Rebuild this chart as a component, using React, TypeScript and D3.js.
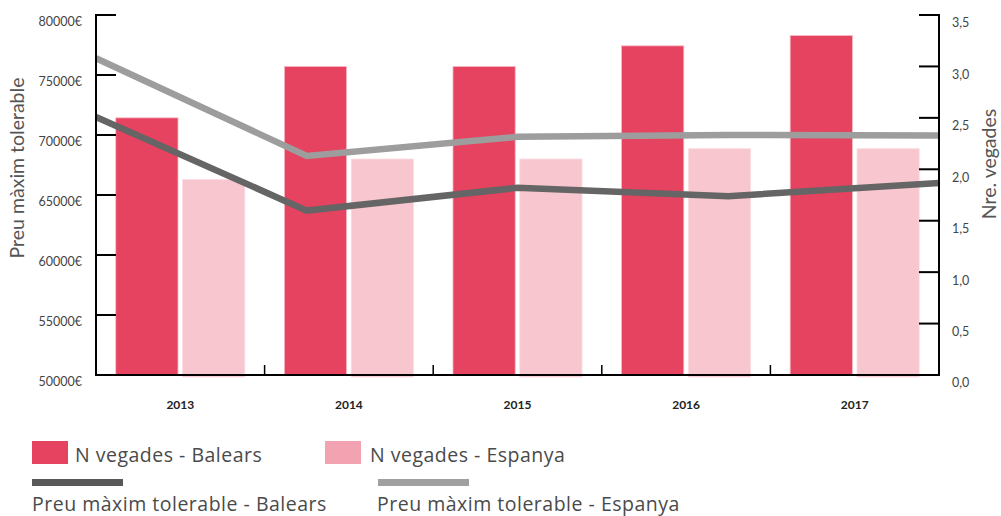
import React from "react";
import * as d3 from "d3";

const years = ["2013", "2014", "2015", "2016", "2017"];
const nBalears = [2.5, 3.0, 3.0, 3.2, 3.3];
const nEspanya = [1.9, 2.1, 2.1, 2.2, 2.2];
const preuBalears = [71500, 63700, 65600, 64900, 66000];
const preuEspanya = [76400, 68250, 69850, 70000, 69950];
const leftTicks = [50000, 55000, 60000, 65000, 70000, 75000, 80000];
const rightTicks = [0, 0.5, 1, 1.5, 2, 2.5, 3, 3.5];

const W = 1001;
const H = 516;
const L = 96;
const R = 939;
const T = 15;
const B = 375;
const FONT = "Lato, 'Open Sans', sans-serif";
const LFONT = "'Open Sans', Lato, sans-serif";

export default function App() {
  const x0 = d3.scaleBand<string>().domain(years).range([L, R]).padding(0);
  const x1 = d3
    .scaleBand<string>()
    .domain(["b", "e"])
    .range([0, x0.bandwidth()])
    .paddingInner(0.069)
    .paddingOuter(0.296);
  const xp = d3.scalePoint<string>().domain(years).range([L, R]);
  const yL = d3.scaleLinear().domain([50000, 80000]).range([B, T]);
  const yR = d3.scaleLinear().domain([0, 3.5]).range([B, T]);

  const line = (vals: number[]) =>
    d3
      .line<number>()
      .x((_, i) => xp(years[i]) as number)
      .y((v) => yL(v))(vals) as string;

  const fmtR = (v: number) => d3.format(".1f")(v).replace(".", ",");

  const legendText = {
    fontFamily: LFONT,
    fontSize: 19.5,
    letterSpacing: 0.5,
    fill: "#4a4a4a",
  };

  return (
    <svg width={W} height={H} style={{ position: "absolute", left: 0, top: 0 }}>
      <rect width={W} height={H} fill="#fff" />
      {/* bars */}
      {years.map((y, i) => (
        <g key={y} transform={`translate(${x0(y)},0)`}>
          <rect
            x={x1("b")}
            y={yR(nBalears[i])}
            width={x1.bandwidth()}
            height={B - yR(nBalears[i])}
            fill="#e5435f"
            stroke="#f7b9c4"
            strokeWidth={0.8}
          />
          <rect
            x={x1("e")}
            y={yR(nEspanya[i])}
            width={x1.bandwidth()}
            height={B - yR(nEspanya[i]) + 2}
            fill="#f7c6cf"
            stroke="#fbdde3"
            strokeWidth={0.8}
          />
        </g>
      ))}
      {/* lines */}
      <path d={line(preuEspanya)} fill="none" stroke="#9d9d9d" strokeWidth={6.5} />
      <path d={line(preuBalears)} fill="none" stroke="#656565" strokeWidth={6.5} />

      {/* left axis */}
      <line x1={L} x2={L} y1={T - 1} y2={B + 1} stroke="#000" strokeWidth={2} />
      {leftTicks.map((t) => (
        <g key={t}>
          {t !== 50000 && (
            <line x1={L} x2={L + 20} y1={yL(t)} y2={yL(t)} stroke="#000" strokeWidth={2} />
          )}
          <text
            x={82}
            y={yL(t) + 7}
            dy="0.35em"
            textAnchor="end"
            fontFamily={FONT}
            fontSize={12.5}
            fill="#444"
          >
            {t}€
          </text>
        </g>
      ))}
      {/* right axis */}
      <line x1={R} x2={R} y1={T - 1} y2={B + 1} stroke="#000" strokeWidth={2} />
      {rightTicks.map((t) => (
        <g key={t}>
          {t !== 0 && (
            <line x1={R - 20} x2={R} y1={yR(t)} y2={yR(t)} stroke="#000" strokeWidth={2} />
          )}
          <text
            x={952}
            y={yR(t) + 8}
            dy="0.35em"
            textAnchor="start"
            fontFamily={FONT}
            fontSize={12.5}
            fill="#444"
          >
            {fmtR(t)}
          </text>
        </g>
      ))}
      {/* bottom axis */}
      <line x1={L} x2={R + 1} y1={B} y2={B} stroke="#000" strokeWidth={2} />
      {years.slice(1).map((y) => (
        <line key={y} x1={x0(y)} x2={x0(y)} y1={B} y2={B - 10} stroke="#000" strokeWidth={1.5} />
      ))}
      {years.map((y) => (
        <text
          key={y}
          x={(x0(y) as number) + x0.bandwidth() / 2}
          y={405}
          dy="0.35em"
          textAnchor="middle"
          fontFamily={FONT}
          fontSize={12}
          fontWeight={700}
          fill="#222"
        >
          {y}
        </text>
      ))}

      {/* axis titles */}
      <text
        transform={`translate(24,168) rotate(-90)`}
        textAnchor="middle"
        fontFamily={FONT}
        fontSize={19.5}
        fill="#555"
      >
        Preu màxim tolerable
      </text>
      <text
        transform={`translate(996,164) rotate(-90)`}
        textAnchor="middle"
        fontFamily={FONT}
        fontSize={19.5}
        fill="#555"
      >
        Nre. vegades
      </text>

      {/* legend */}
      <rect x={32} y={441} width={36} height={23} fill="#e5435f" />
      <text x={75} y={462} {...legendText}>
        N vegades - Balears
      </text>
      <rect x={325} y={441} width={36} height={23} fill="#f2a2b0" />
      <text x={370} y={462} {...legendText}>
        N vegades - Espanya
      </text>
      <rect x={32} y={479} width={91} height={7} fill="#585858" />
      <text x={32} y={510.5} {...legendText}>
        Preu màxim tolerable - Balears
      </text>
      <rect x={378} y={479} width={91} height={7} fill="#a0a0a0" />
      <text x={377} y={510.5} {...legendText}>
        Preu màxim tolerable - Espanya
      </text>
    </svg>
  );
}
